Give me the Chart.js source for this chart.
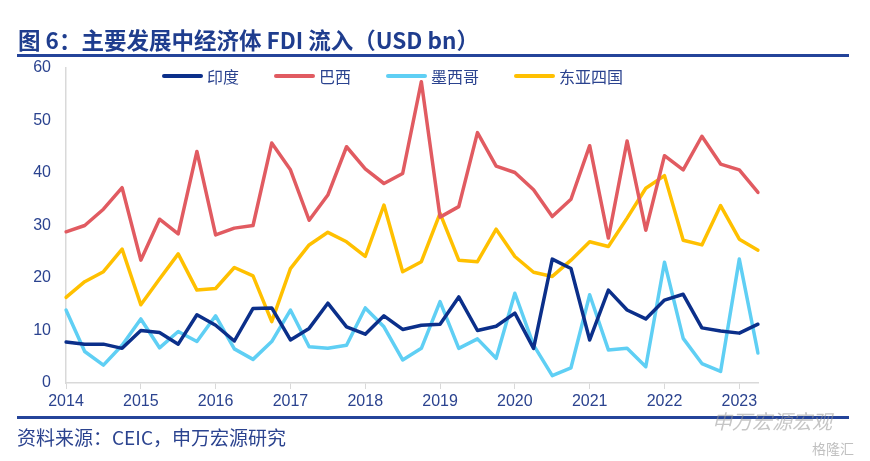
<!DOCTYPE html>
<html>
<head>
<meta charset="utf-8">
<script src="https://cdn.jsdelivr.net/npm/chart.js@4/dist/chart.umd.min.js"></script>
<style>
  body { margin: 0; background: #fff; }
  #wrap { position: relative; width: 870px; height: 461px; overflow: hidden;
          font-family: "Noto Sans CJK SC", "Noto Sans", sans-serif; }
  #chart { position: absolute; left: 0; top: 0; }
  #title { position: absolute; left: 18px; top: 25px; font-size: 22.5px; font-weight: bold;
           color: #1f3d8e; white-space: nowrap; line-height: 28px; }
  .rule { position: absolute; left: 17px; width: 832px; height: 3px; background: #24449a; }
  #legend { position: absolute; left: 162px; top: 66px; display: flex; align-items: center;
            font-size: 16px; color: #2b438f; line-height: 20px; }
  .item { display: flex; align-items: center; margin-right: 35px; }
  .item i { display: inline-block; width: 41px; height: 4px; margin-right: 4px; border-radius: 2px; }
  #source { position: absolute; left: 17px; top: 425px; font-size: 19px; color: #2b438f;
            white-space: nowrap; line-height: 24px; }
  #mark { position: absolute; left: 712px; top: 406px; font-size: 20px; color: rgba(150,150,150,0.55);
          font-style: italic; white-space: nowrap; }
  #mark2 { position: absolute; left: 812px; top: 438px; font-size: 14px; color: rgba(150,150,150,0.6);
           white-space: nowrap; }
</style>
</head>
<body>
<div id="wrap">
  <canvas id="chart" width="870" height="461"></canvas>
  <div id="title">图 6：主要发展中经济体 FDI 流入（USD bn）</div>
  <div class="rule" style="top:54px"></div>
  <div id="legend"></div>
  <div class="rule" style="top:416px"></div>
  <div id="source">资料来源：CEIC，申万宏源研究</div>
  <div id="mark">申万宏源宏观</div>
  <div id="mark2">格隆汇</div>
</div>
<script>
// quarterly, 2014Q1 - 2023Q2
const quarters = [
  "2014Q1","2014Q2","2014Q3","2014Q4","2015Q1","2015Q2","2015Q3","2015Q4",
  "2016Q1","2016Q2","2016Q3","2016Q4","2017Q1","2017Q2","2017Q3","2017Q4",
  "2018Q1","2018Q2","2018Q3","2018Q4","2019Q1","2019Q2","2019Q3","2019Q4",
  "2020Q1","2020Q2","2020Q3","2020Q4","2021Q1","2021Q2","2021Q3","2021Q4",
  "2022Q1","2022Q2","2022Q3","2022Q4","2023Q1","2023Q2"
];

const seriesNames = ["印度", "巴西", "墨西哥", "东亚四国"];

const india = [7.8, 7.4, 7.4, 6.6, 10.0, 9.6, 7.4, 13.0, 11.0, 8.0, 14.2, 14.3,
  8.2, 10.4, 15.2, 10.7, 9.3, 12.8, 10.2, 11.0, 11.2, 16.4, 10.0, 10.8,
  13.3, 6.6, 23.6, 21.8, 8.2, 17.7, 13.9, 12.2, 15.8, 16.9, 10.5, 9.9, 9.5, 11.2];

const brazil = [28.8, 30.0, 33.1, 37.2, 23.4, 31.2, 28.4, 44.1, 28.2, 29.5, 30.0, 45.7,
  40.6, 31.0, 35.8, 45.0, 40.8, 38.0, 39.9, 57.4, 31.6, 33.6, 47.7, 41.3,
  40.1, 36.8, 31.7, 35.0, 45.2, 27.6, 46.1, 29.1, 43.3, 40.6, 47.0, 41.7, 40.6, 36.3];

const mexico = [13.9, 6.0, 3.4, 7.2, 12.2, 6.7, 9.8, 7.9, 12.8, 6.5, 4.5, 7.9,
  13.9, 6.9, 6.6, 7.2, 14.3, 10.7, 4.4, 6.6, 15.5, 6.6, 8.4, 4.7,
  17.1, 7.2, 1.4, 2.9, 16.8, 6.3, 6.6, 3.1, 23.0, 8.5, 3.7, 2.2, 23.6, 5.7];

const eastAsia4 = [16.3, 19.3, 21.2, 25.5, 14.9, 19.8, 24.6, 17.7, 18.0, 22.0, 20.4, 11.7,
  21.8, 26.3, 28.7, 26.9, 24.1, 33.9, 21.2, 23.1, 32.3, 23.4, 23.1, 29.3,
  24.1, 21.1, 20.3, 23.4, 26.9, 26.0, 31.4, 37.1, 39.5, 27.2, 26.3, 33.8, 27.4, 25.3];

const colors = ["#0b2f8a", "#e15b61", "#5fcff4", "#ffc000"];
const yTicks = { min: 0, max: 60, step: 10 };

const textBlue = "#2b438f";
const axisGrey = "#d9d9d9";

const allSeries = [india, brazil, mexico, eastAsia4];

// html legend
const legendEl = document.getElementById("legend");
seriesNames.forEach((name, i) => {
  const item = document.createElement("span");
  item.className = "item";
  item.innerHTML = '<i style="background:' + colors[i] + '"></i>' + name;
  legendEl.appendChild(item);
});

new Chart(document.getElementById("chart").getContext("2d"), {
  type: "line",
  data: {
    labels: quarters,
    datasets: allSeries.map((vals, i) => ({
      label: seriesNames[i],
      data: vals,
      borderColor: colors[i],
      backgroundColor: colors[i],
      borderWidth: 3.5,
      pointRadius: 0,
      tension: 0,
      fill: false,
      borderJoinStyle: "round",
      borderCapStyle: "round",
    })),
  },
  options: {
    responsive: false,
    animation: false,
    layout: { padding: { top: 68, left: 0, right: 112, bottom: 48 } },
    plugins: {
      legend: { display: false },
      tooltip: { enabled: false },
    },
    scales: {
      x: {
        grid: {
          display: true,
          drawOnChartArea: false,
          drawTicks: true,
          tickLength: 6,
          color: (ctx) => (ctx.index % 4 === 0 ? axisGrey : "rgba(0,0,0,0)"),
        },
        border: { display: true, color: axisGrey, width: 1.5 },
        ticks: {
          autoSkip: false,
          maxRotation: 0,
          padding: 3,
          color: textBlue,
          font: { family: "Liberation Sans, Arial, sans-serif", size: 16 },
          callback: function (val, idx) {
            const q = quarters[idx];
            return q.endsWith("Q1") ? q.slice(0, 4) : "";
          },
        },
        afterFit: (s) => { s.height = 30; },
      },
      y: {
        min: yTicks.min,
        max: yTicks.max,
        grid: { display: false, drawTicks: false },
        border: { display: true, color: axisGrey, width: 1.5 },
        ticks: {
          stepSize: yTicks.step,
          padding: 15,
          color: textBlue,
          font: { family: "Liberation Sans, Arial, sans-serif", size: 16 },
        },
        afterFit: (s) => { s.width = 66; },
      },
    },
  },
});
</script>
</body>
</html>
